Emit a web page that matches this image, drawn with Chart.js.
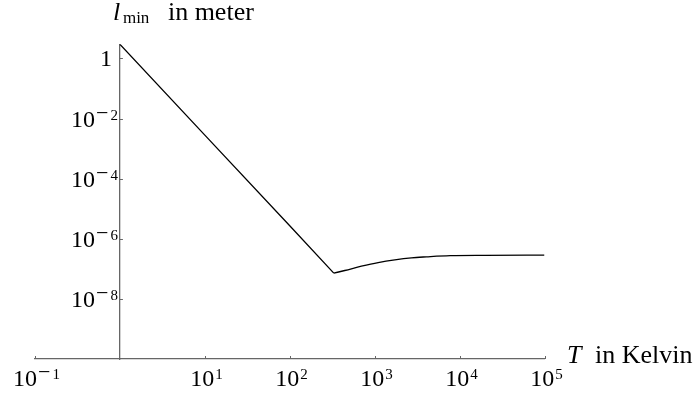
<!DOCTYPE html>
<html lang="en">
<head>
    <meta charset="UTF-8">
    <title>l_min vs T</title>
    <style>
        body { margin: 0; background: #fff; }
        .chart-container { width: 696px; height: 396px; }
    </style>
</head>
<body>
    <div class="chart-container">
        <canvas id="myChart" width="696" height="396"></canvas>
    </div>

    <script src="https://cdn.jsdelivr.net/npm/chart.js"></script>
    <script>
        // falling branch (straight in log-log) and the rising branch that levels off
        var coolTemps = [1, 10, 100, 330];
        var coolLengths = [2.95, 2.8e-3, 2.7e-6, 7.2e-8];
        var warmTemps = [330, 445, 698, 1099, 1727, 2710, 4070, 7750, 20000, 100000];
        var warmLengths = [7.2e-8, 8.8e-8, 1.22e-7, 1.62e-7, 2.0e-7, 2.33e-7, 2.51e-7, 2.75e-7, 2.82e-7, 2.85e-7];

        var xTickPowers = [-1, 1, 2, 3, 4, 5];
        var yTickPowers = [0, -2, -4, -6, -8];

        var serif = '"Liberation Serif", "Times New Roman", serif';
        var axisColor = '#666';
        var textColor = '#000';

        function toPoints(xs, ys) {
            return xs.map(function (x, i) { return { x: x, y: ys[i] }; });
        }

        // width of "10" plus raised exponent (minus sign drawn wider, like TeX)
        function powerParts(ctx, p) {
            ctx.font = '24px ' + serif;
            var wb = ctx.measureText('10').width;
            var wm = 0;
            if (p < 0) {
                ctx.font = '22px ' + serif;
                wm = ctx.measureText('\u2212').width + 2;
            }
            ctx.font = '15px ' + serif;
            var wd = ctx.measureText(String(Math.abs(p))).width;
            return { wb: wb, wm: wm, wd: wd, total: wb + 1 + wm + wd };
        }

        function drawPower(ctx, p, x, y, align) {
            var s = powerParts(ctx, p);
            var left = align === 'right' ? x - s.total : x - s.total / 2;
            var ey = y - 7.5;
            ctx.font = '24px ' + serif;
            ctx.fillText('10', left, y);
            var ex = left + s.wb + 1;
            if (p < 0) {
                ctx.font = '22px ' + serif;
                ctx.fillText('\u2212', ex, ey);
                ex += s.wm;
            }
            ctx.font = '15px ' + serif;
            ctx.fillText(String(Math.abs(p)), ex, ey);
        }

        var axisLabels = {
            id: 'axisLabels',
            afterDraw: function (chart) {
                var ctx = chart.ctx;
                var xs = chart.scales.x;
                var ys = chart.scales.y;
                var axisX = xs.getPixelForValue(1);
                var axisY = chart.chartArea.bottom;

                ctx.save();
                ctx.strokeStyle = axisColor;
                ctx.lineWidth = 1;
                ctx.fillStyle = textColor;
                ctx.textBaseline = 'alphabetic';
                ctx.textAlign = 'left';

                yTickPowers.forEach(function (p) {
                    var py = Math.round(ys.getPixelForValue(Math.pow(10, p))) + 0.5;
                    ctx.beginPath();
                    ctx.moveTo(axisX, py);
                    ctx.lineTo(axisX + 3, py);
                    ctx.stroke();
                    if (p === 0) {
                        ctx.font = '24px ' + serif;
                        var w = ctx.measureText('1').width;
                        ctx.fillText('1', axisX - 8 - w, py + 7.5);
                    } else {
                        drawPower(ctx, p, axisX - 2, py + 7.5, 'right');
                    }
                });

                xTickPowers.forEach(function (p) {
                    var px = Math.round(xs.getPixelForValue(Math.pow(10, p))) + 0.5;
                    ctx.beginPath();
                    ctx.moveTo(px, axisY);
                    ctx.lineTo(px, axisY - 3);
                    ctx.stroke();
                    drawPower(ctx, p, px + 1, axisY + 27, 'center');
                });

                // x axis title
                ctx.font = 'italic 26px ' + serif;
                ctx.fillText('T', 567, axisY + 4);
                ctx.font = '26px ' + serif;
                ctx.fillText('in Kelvin', 595, axisY + 4);

                // y axis title
                var tx = axisX - 7;
                ctx.font = 'italic 26px ' + serif;
                ctx.fillText('l', tx, 20);
                ctx.font = '17px ' + serif;
                ctx.fillText('min', tx + 10, 23);
                ctx.font = '26px ' + serif;
                ctx.fillText('in meter', tx + 55, 20);
                ctx.restore();
            }
        };

        var ctx = document.getElementById('myChart').getContext('2d');
        var myChart = new Chart(ctx, {
            type: 'line',
            data: {
                datasets: [{
                    data: toPoints(coolTemps, coolLengths),
                    borderColor: '#000',
                    borderWidth: 1.3,
                    pointRadius: 0,
                    tension: 0
                }, {
                    data: toPoints(warmTemps, warmLengths),
                    borderColor: '#000',
                    borderWidth: 1.3,
                    pointRadius: 0,
                    cubicInterpolationMode: 'monotone'
                }]
            },
            options: {
                responsive: false,
                animation: false,
                devicePixelRatio: 1,
                layout: { padding: { left: 35, right: 151.5, top: 44.3, bottom: 37 } },
                plugins: {
                    legend: { display: false },
                    tooltip: { enabled: false }
                },
                scales: {
                    x: {
                        type: 'logarithmic',
                        min: 0.1,
                        max: 100000,
                        ticks: { display: false },
                        grid: { display: false, drawTicks: false },
                        border: { display: true, color: axisColor, width: 1.3 }
                    },
                    y: {
                        type: 'logarithmic',
                        position: { x: 1 },
                        min: 1e-10,
                        max: 2.95,
                        ticks: { display: false },
                        grid: { display: false, drawTicks: false },
                        border: { display: true, color: axisColor, width: 1.3 }
                    }
                }
            },
            plugins: [axisLabels]
        });
    </script>
</body>
</html>
